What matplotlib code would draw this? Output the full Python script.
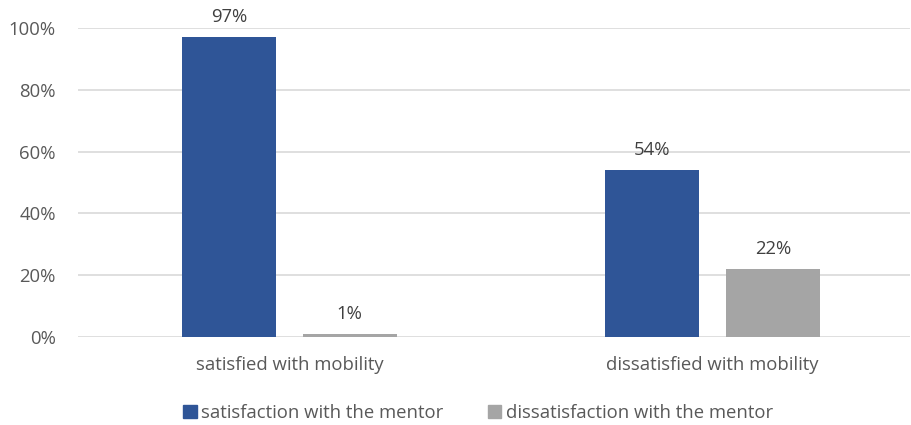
import matplotlib
matplotlib.use("Agg")
import matplotlib.pyplot as plt
from matplotlib.ticker import PercentFormatter
from matplotlib.patches import Patch
import numpy as np

categories = ["satisfied with mobility", "dissatisfied with mobility"]
series_names = ["satisfaction with the mentor", "dissatisfaction with the mentor"]
satisfaction = [0.97, 0.54]
dissatisfaction = [0.01, 0.22]
value_labels = [["97%", "54%"], ["1%", "22%"]]
yticks = [0, 0.2, 0.4, 0.6, 0.8, 1.0]

colors = ["#2F5597", "#A5A5A5"]
plt.rcParams['font.family'] = ['Open Sans', 'DejaVu Sans']
FS = 13.3

fig = plt.figure(figsize=(9.11, 4.25), dpi=100)
ax = fig.add_axes([78/911, (425-337)/425, (910-78)/911, (337-28)/425])

x = np.arange(len(categories))
w = 0.222
off = 0.1425
for i, (vals, name) in enumerate(zip([satisfaction, dissatisfaction], series_names)):
    pos = x + (-off if i == 0 else off)
    ax.bar(pos, vals, width=w, color=colors[i], label=name, zorder=3)
    for p, v, lab in zip(pos, vals, value_labels[i]):
        ax.annotate(lab, (p, v), xytext=(0, 8), textcoords="offset points",
                    ha="center", va="bottom", fontsize=FS, color="#404040")

ax.set_xlim(-0.5, (910-289.5)/423)
ax.set_ylim(0, 1.0)
ax.set_yticks(yticks)
ax.yaxis.set_major_formatter(PercentFormatter(1.0, decimals=0))
ax.set_xticks(x)
ax.set_xticklabels(categories)
ax.tick_params(axis="both", length=0, labelsize=FS, labelcolor="#595959")
ax.tick_params(axis="x", pad=14)
ax.tick_params(axis="y", pad=16)
ax.grid(axis="y", color="#D9D9D9", linewidth=1.2, zorder=0)
for s in ax.spines.values():
    s.set_visible(False)

handles = [Patch(color=c) for c in colors]
fig.legend(handles, series_names, loc="center", bbox_to_anchor=(478/911, 1-413/425),
           ncol=2, frameon=False, fontsize=FS, labelcolor="#595959",
           handlelength=0.72, handleheight=0.72, handletextpad=0.25, columnspacing=2.4)

fig.savefig("out.png", dpi=100)
